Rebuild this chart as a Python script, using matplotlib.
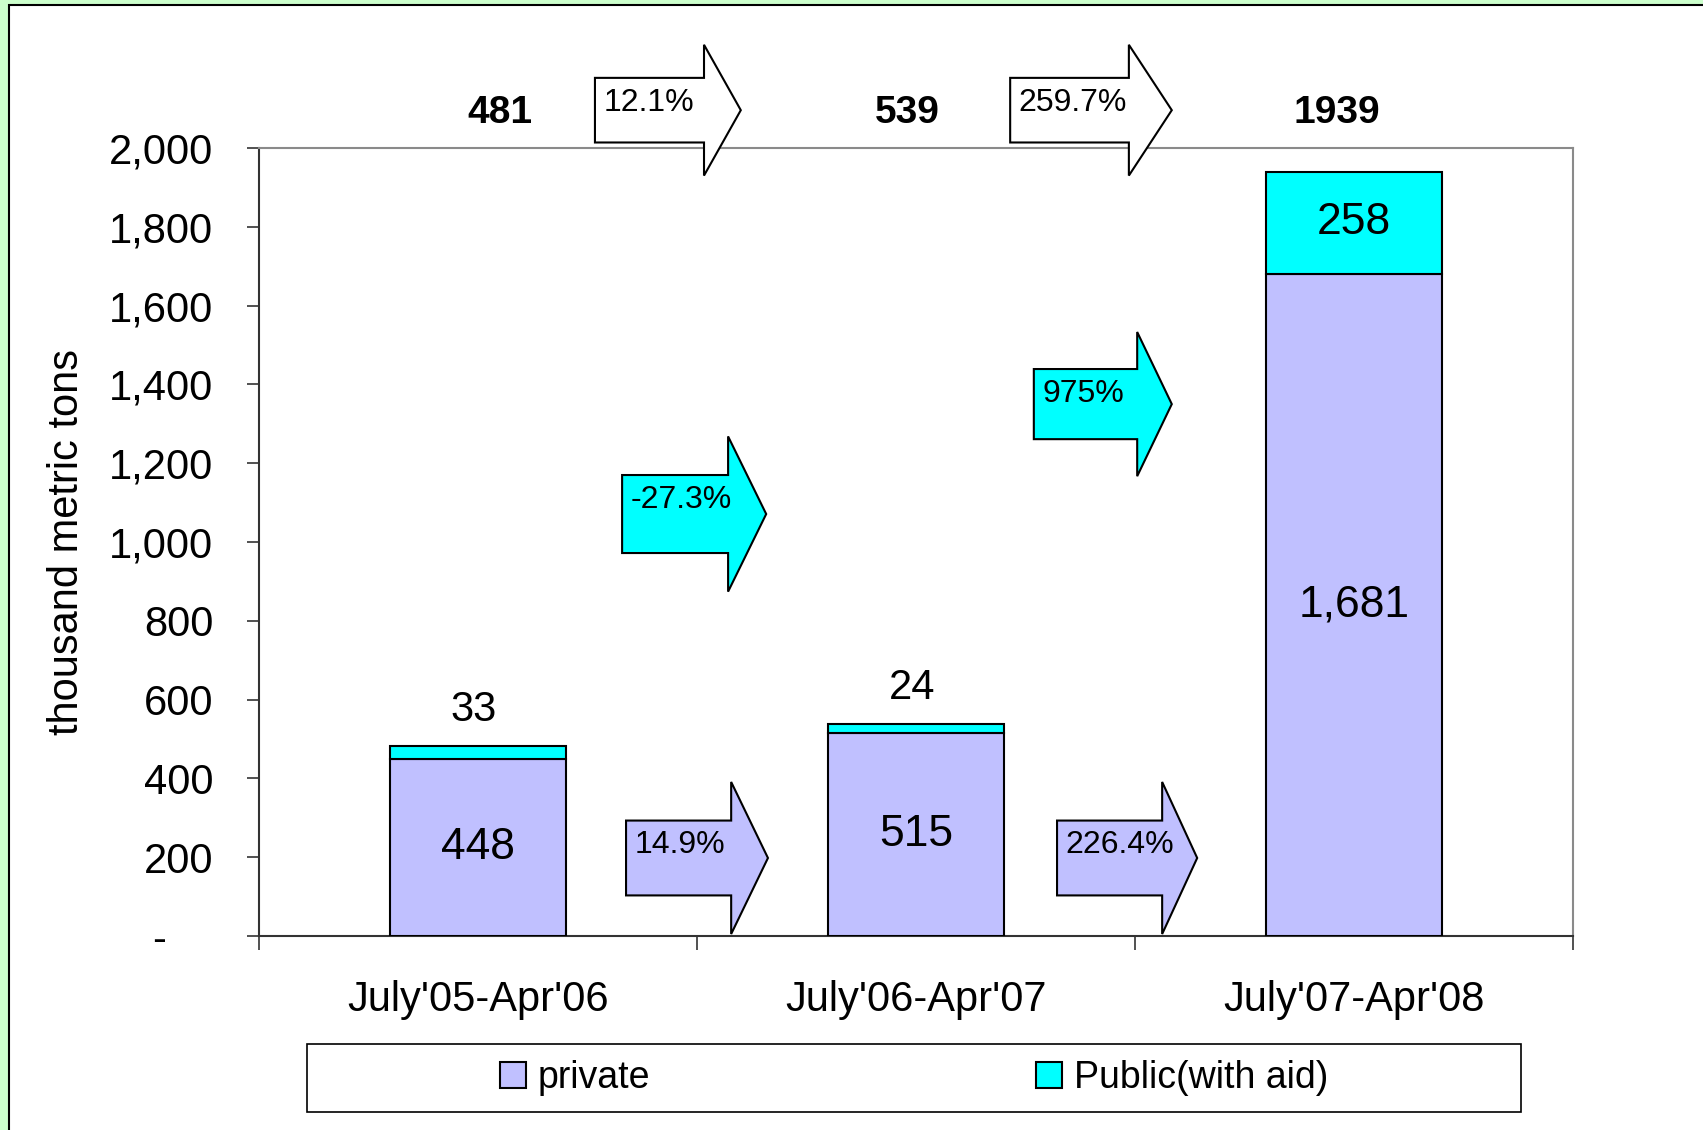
import matplotlib.pyplot as plt
from matplotlib.patches import Polygon, Rectangle
import numpy as np

categories = ["July'05-Apr'06", "July'06-Apr'07", "July'07-Apr'08"]
private = [448, 515, 1681]
public = [33, 24, 258]
totals = [481, 539, 1939]
total_change = ["12.1%", "259.7%"]
public_change = ["-27.3%", "975%"]
private_change = ["14.9%", "226.4%"]
yticks = [0, 200, 400, 600, 800, 1000, 1200, 1400, 1600, 1800, 2000]

LAV = "#C0C0FF"
CYAN = "#00FFFF"

plt.rcParams["font.family"] = ["Liberation Sans", "DejaVu Sans"]

W, H = 1703, 1130
fig = plt.figure(figsize=(W / 100, H / 100), dpi=100)
fig.patch.set_facecolor("#CCFFCC")
fig.patches.append(Rectangle((9 / W, -0.1), 1.2, 0.1 + 1125 / H, transform=fig.transFigure,
                             facecolor="white", edgecolor="black", lw=1.5, zorder=-5))

ax = fig.add_axes([259 / W, 194 / H, 1314 / W, 788 / H])
ax.patch.set_alpha(0)
x = np.arange(len(categories))
b1 = ax.bar(x, private, 0.40, color=LAV, edgecolor="black", lw=1.5, label="private", zorder=3)
b2 = ax.bar(x, public, 0.40, bottom=private, color=CYAN, edgecolor="black", lw=1.5,
            label="Public(with aid)", zorder=3)
ax.set_xlim(-0.5, 2.5)
ax.set_ylim(0, 2000)

# axis styling
for s in ("top", "right"):
    ax.spines[s].set_color("#8a8a8a")
    ax.spines[s].set_linewidth(1.5)
for s in ("left", "bottom"):
    ax.spines[s].set_color("#333333")
    ax.spines[s].set_linewidth(1.5)

ax.set_yticks(yticks)
# accounting-style zero: a dash padded away from the right edge
ax.set_yticklabels(["-    " if v == 0 else f"{v:,}" for v in yticks])
ax.tick_params(axis="y", length=9, width=1.2, pad=24, labelsize=30, color="#333333")
ax.set_xticks(x)
ax.set_xticklabels(categories)
ax.set_xticks(np.arange(len(categories) + 1) - 0.5, minor=True)
ax.tick_params(axis="x", which="major", length=0, pad=32, labelsize=30)
ax.tick_params(axis="x", which="minor", length=10, width=1.2, color="#333333")
ax.set_ylabel("thousand metric tons", fontsize=30)
ax.yaxis.set_label_coords(-0.131, 0.5)

# value labels
for i in x:
    ax.text(i, private[i] / 2, f"{private[i]:,}", ha="center", va="center", fontsize=32, zorder=6)
    if public[i] < 100:
        ax.annotate(f"{public[i]}", (i, private[i] + public[i]), xytext=(-3, 26),
                    textcoords="offset points", ha="center", va="center", fontsize=30)
    else:
        ax.text(i, private[i] + public[i] / 2, f"{public[i]}", ha="center", va="center",
                fontsize=32, zorder=6)

nudge = [0.05, -0.02, -0.04]
for i in x:
    ax.text(i + nudge[i], 2088, f"{totals[i]}", ha="center", va="center", fontsize=28,
            fontweight="bold", clip_on=False)


def arrow(x0, xb, x1, yc, bh, hh, color, text):
    pts = [(x0, yc - bh), (xb, yc - bh), (xb, yc - hh), (x1, yc),
           (xb, yc + hh), (xb, yc + bh), (x0, yc + bh)]
    ax.add_patch(Polygon(pts, closed=True, fc=color, ec="black", lw=1.5,
                         clip_on=False, zorder=5))
    ax.annotate(text, (x0, yc + bh), xytext=(6, -7), textcoords="offset points",
                ha="left", va="top", fontsize=23, zorder=6, annotation_clip=False)


arrow(0.267, 0.516, 0.600, 2096, 82, 166, "white", total_change[0])
arrow(1.215, 1.486, 1.584, 2096, 82, 166, "white", total_change[1])
arrow(0.329, 0.571, 0.658, 1071, 99, 197, CYAN, public_change[0])
arrow(1.269, 1.505, 1.584, 1350, 89, 183, CYAN, public_change[1])
arrow(0.338, 0.578, 0.662, 198, 95, 193, LAV, private_change[0])
arrow(1.322, 1.562, 1.642, 198, 95, 193, LAV, private_change[1])

# legend
fig.patches.append(Rectangle((307 / W, (H - 1112) / H), (1521 - 307) / W, 68 / H,
                             transform=fig.transFigure, fill=False, edgecolor="black", lw=1.2))
fig.legend(handles=[b1, b2], loc="center", bbox_to_anchor=(914 / W, 1 - 1078 / H), ncol=2,
           frameon=False, fontsize=27, handlelength=0.7, handleheight=0.7,
           handletextpad=0.3, columnspacing=10.3)

fig.savefig("out.png", dpi=100)
